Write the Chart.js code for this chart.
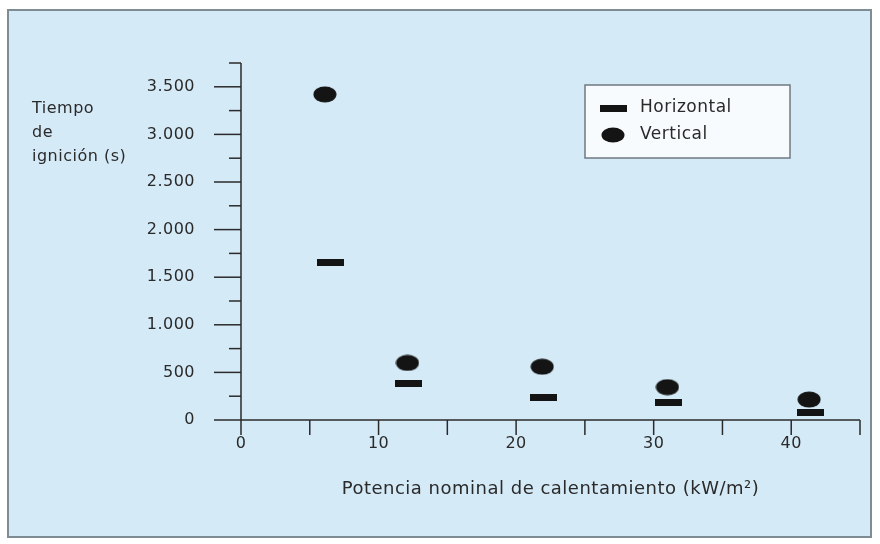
<!DOCTYPE html>
<html>
<head>
<meta charset="utf-8">
<script src="https://cdn.jsdelivr.net/npm/chart.js@4/dist/chart.umd.min.js"></script>
<style>
  html, body { margin: 0; padding: 0; background: #ffffff; }
  #wrap { width: 880px; height: 544px; }
</style>
</head>
<body>
<div id="wrap"><canvas id="c" width="880" height="544"></canvas></div>
<script>
// ---- data ----
const seriesNames = ['Horizontal', 'Vertical'];
const horizontalX = [6.5, 12.2, 22.0, 31.1, 41.4];
const horizontalY = [1650, 380, 235, 180, 75];
const verticalX = [6.1, 12.1, 21.9, 31.0, 41.3];
const verticalY = [3420, 600, 560, 345, 215];
const xTickValues = [0, 10, 20, 30, 40];
const xTickLabels = ['0', '10', '20', '30', '40'];
const yTickValues = [0, 500, 1000, 1500, 2000, 2500, 3000, 3500];
const yTickLabels = ['0', '500', '1.000', '1.500', '2.000', '2.500', '3.000', '3.500'];
const xTitle = 'Potencia nominal de calentamiento (kW/m\u00B2)';
const yTitleLines = ['Tiempo', 'de', 'ignici\u00F3n (s)'];

const FONT = 'DejaVu Sans';
const TEXT = '#2a2a2a';
const INK = '#141414';

function makeEllipse(w, h) {
  const c = document.createElement('canvas');
  c.width = w; c.height = h;
  const g = c.getContext('2d');
  g.fillStyle = INK;
  g.beginPath();
  g.ellipse(w / 2, h / 2, w / 2 - 0.5, h / 2 - 0.5, 0, 0, Math.PI * 2);
  g.fill();
  return c;
}
function makeDash(w, h) {
  const c = document.createElement('canvas');
  c.width = w; c.height = h;
  const g = c.getContext('2d');
  g.fillStyle = INK;
  g.fillRect(0, 0, w, h);
  return c;
}
const dashImg = makeDash(27, 7);
const ellImg = makeEllipse(24, 17);
const dashLeg = makeDash(27, 7);
const ellLeg = makeEllipse(24, 16);

const framePlugin = {
  id: 'frame',
  beforeDraw(chart) {
    const ctx = chart.ctx;
    ctx.save();
    ctx.fillStyle = '#ffffff';
    ctx.fillRect(0, 0, chart.width, chart.height);
    ctx.fillStyle = '#d5eaf7';
    ctx.fillRect(8, 10, 863, 527);
    ctx.strokeStyle = '#7f8c94';
    ctx.lineWidth = 2;
    ctx.strokeRect(8, 10, 863, 527);
    ctx.restore();
    ctx.letterSpacing = '0.5px';
  }
};

const axesPlugin = {
  id: 'axesDraw',
  beforeDatasetsDraw(chart) {
    const ctx = chart.ctx;
    const xs = chart.scales.x, ys = chart.scales.y;
    const x0 = xs.getPixelForValue(0);
    const y0 = ys.getPixelForValue(0);
    ctx.save();
    ctx.strokeStyle = '#2a2a2a';
    ctx.lineWidth = 1.5;
    ctx.beginPath();
    ctx.moveTo(x0, ys.getPixelForValue(ys.max));
    ctx.lineTo(x0, y0);
    ctx.stroke();
    ctx.beginPath();
    ctx.moveTo(x0, y0);
    ctx.lineTo(xs.getPixelForValue(xs.max), y0);
    ctx.stroke();
    ys.ticks.forEach(t => {
      const py = ys.getPixelForValue(t.value);
      const major = t.value % 500 === 0;
      ctx.beginPath();
      ctx.moveTo(x0 - (major ? 27 : 12), py);
      ctx.lineTo(x0, py);
      ctx.stroke();
    });
    xs.ticks.forEach(t => {
      const px = xs.getPixelForValue(t.value);
      ctx.beginPath();
      ctx.moveTo(px, y0);
      ctx.lineTo(px, y0 + 15);
      ctx.stroke();
    });
    ctx.fillStyle = TEXT;
    ctx.font = '16px "' + FONT + '"';
    ctx.textAlign = 'left';
    ctx.textBaseline = 'middle';
    yTitleLines.forEach((s, i) => ctx.fillText(s, 32, 109 + i * 24));
    ctx.restore();
  }
};

const legendPlugin = {
  id: 'boxLegend',
  afterDatasetsDraw(chart) {
    const ctx = chart.ctx;
    ctx.save();
    ctx.fillStyle = '#f7fbfd';
    ctx.fillRect(585, 85, 205, 73);
    ctx.strokeStyle = '#6f7a80';
    ctx.lineWidth = 1.5;
    ctx.strokeRect(585, 85, 205, 73);
    const imgs = [dashLeg, ellLeg];
    ctx.fillStyle = TEXT;
    ctx.font = '17px "' + FONT + '"';
    ctx.textAlign = 'left';
    ctx.textBaseline = 'middle';
    chart.data.datasets.forEach((ds, i) => {
      const cy = 108 + i * 27;
      const im = imgs[i];
      ctx.drawImage(im, 613 - im.width / 2, cy - im.height / 2);
      ctx.fillText(ds.label, 640, cy);
    });
    ctx.restore();
  }
};

new Chart(document.getElementById('c'), {
  type: 'scatter',
  data: {
    datasets: [
      {
        label: seriesNames[0],
        data: horizontalX.map((x, i) => ({ x: x, y: horizontalY[i] })),
        pointStyle: dashImg,
        pointRadius: 10,
        backgroundColor: INK,
        borderColor: INK
      },
      {
        label: seriesNames[1],
        data: verticalX.map((x, i) => ({ x: x, y: verticalY[i] })),
        pointStyle: ellImg,
        pointRadius: 10,
        backgroundColor: INK,
        borderColor: INK
      }
    ]
  },
  options: {
    responsive: false,
    animation: false,
    layout: { padding: { left: 0, top: 63, right: 20, bottom: 0 } },
    plugins: {
      legend: { display: false },
      tooltip: { enabled: false }
    },
    scales: {
      x: {
        type: 'linear',
        min: 0,
        max: 45,
        grid: { display: false },
        border: { display: false },
        ticks: {
          stepSize: 5,
          autoSkip: false,
          maxRotation: 0,
          padding: 6,
          color: TEXT,
          font: { family: FONT, size: 16 },
          callback: v => {
            const k = xTickValues.indexOf(v);
            return k >= 0 ? xTickLabels[k] : '';
          }
        },
        title: {
          display: true,
          text: xTitle,
          color: TEXT,
          font: { family: FONT, size: 18 },
          padding: { top: 0, bottom: 44 }
        },
        afterFit: s => { s.height = 124; }
      },
      y: {
        type: 'linear',
        min: 0,
        max: 3750,
        grid: { display: false },
        border: { display: false },
        ticks: {
          stepSize: 250,
          autoSkip: false,
          padding: 38,
          color: TEXT,
          font: { family: FONT, size: 16 },
          callback: v => {
            const k = yTickValues.indexOf(v);
            return k >= 0 ? yTickLabels[k] : '';
          }
        },
        afterFit: s => { s.width = 241; }
      }
    }
  },
  plugins: [framePlugin, axesPlugin, legendPlugin]
});
</script>
</body>
</html>
